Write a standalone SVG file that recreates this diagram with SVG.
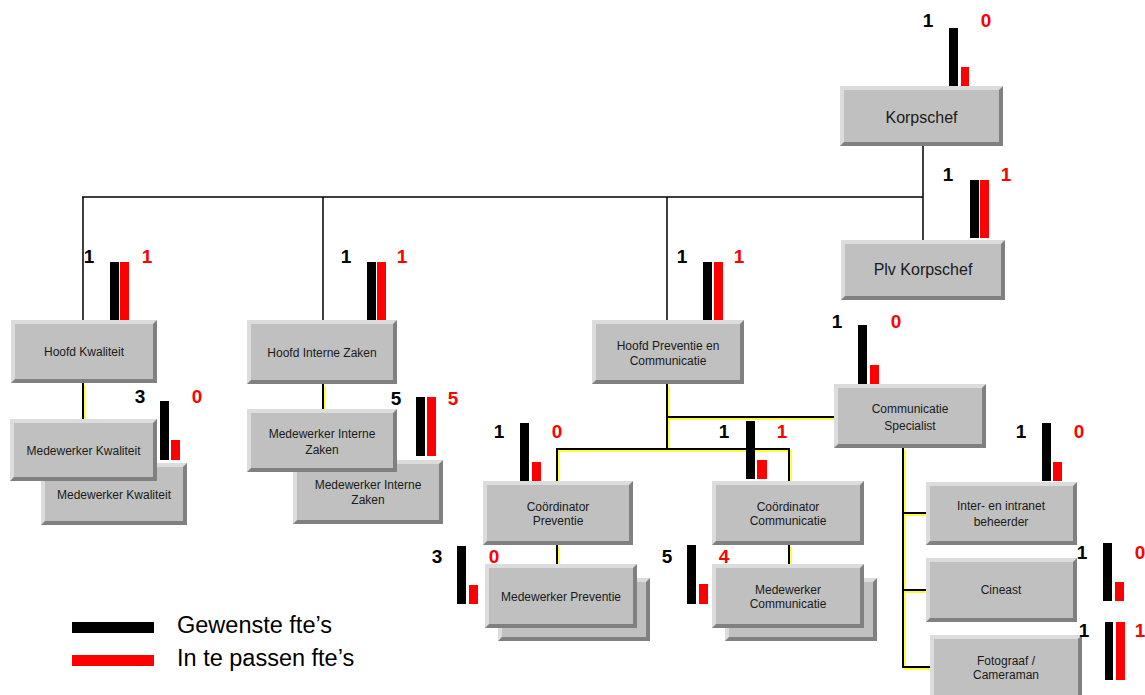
<svg xmlns="http://www.w3.org/2000/svg" width="1145" height="695" viewBox="0 0 1145 695">
<style>
.dk{fill:#808080}
.lt{fill:#dcdcdc}
.face{fill:#c0c0c0}
.t{font-family:"Liberation Sans",Arial,sans-serif;font-size:12px;fill:#1a1a1a;text-anchor:middle}
.tl{font-family:"Liberation Sans",Arial,sans-serif;font-size:16px;fill:#1a1a1a;text-anchor:middle}
.n{font-family:"Liberation Sans",Arial,sans-serif;font-size:19px;font-weight:bold;text-anchor:middle;fill:#000}
.r{fill:#ff0000}
.b{fill:#000}
.top{fill:none;stroke:#000;stroke-width:1.5}
.ks{fill:none;stroke:#000;stroke-width:2}
.ys{fill:none;stroke:#ffff33;stroke-width:2}
.leg{font-family:"Liberation Sans",Arial,sans-serif;font-size:23.5px;fill:#000}
</style>
<rect width="1145" height="695" fill="#fff"/>
<g id="connectors">
<path class="top" d="M82,197 H923 M83,197 V320 M323,197 V320 M667,197 V320 M923,146 V240"/>
<path class="ys" transform="translate(2,2)" d="M83,383 V418 M323,384 V407 M667,384 V447 M667,417 H832 M557,481 V449 H789 V481 M557,545 V562 M789,545 V562 M903,448 V667 H928 M903,513 H924 M903,590 H924"/>
<path class="ks" d="M83,383 V420 M323,384 V409 M667,384 V449 M667,417 H834 M557,481 V449 H789 V481 M557,545 V564 M789,545 V564 M903,448 V667 H930 M903,513 H926 M903,590 H926"/>
</g>
<g id="korpschef">
<rect class="dk" x="840" y="86" width="163" height="60"/><polygon class="lt" points="840,86 1003,86 999,90 844,90 844,142 840,146"/><rect class="face" x="844" y="90" width="155" height="52"/>
<text class="tl" x="921.5" y="123">Korpschef</text>
<rect class="b" x="949" y="28" width="9" height="58"/><rect class="r" x="961" y="67" width="8" height="19"/>
<text class="n" x="928" y="27">1</text><text class="n r" x="986" y="27">0</text>
</g>
<g id="plv-korpschef">
<rect class="dk" x="841" y="240" width="164" height="60"/><polygon class="lt" points="841,240 1005,240 1001,244 845,244 845,296 841,300"/><rect class="face" x="845" y="244" width="156" height="52"/>
<text class="tl" x="923" y="275">Plv Korpschef</text>
<rect class="b" x="970" y="180" width="9" height="58"/><rect class="r" x="980" y="180" width="9" height="58"/>
<text class="n" x="948" y="181">1</text><text class="n r" x="1006" y="181">1</text>
</g>
<g id="hoofd-kwaliteit">
<rect class="dk" x="11" y="320" width="146" height="63"/><polygon class="lt" points="11,320 157,320 153,324 15,324 15,379 11,383"/><rect class="face" x="15" y="324" width="138" height="55"/>
<text class="t" x="84" y="356">Hoofd Kwaliteit</text>
<rect class="b" x="110" y="262" width="9" height="58"/><rect class="r" x="120" y="262" width="9" height="58"/>
<text class="n" x="89" y="263">1</text><text class="n r" x="147" y="263">1</text>
</g>
<g id="hoofd-interne-zaken">
<rect class="dk" x="247" y="320" width="150" height="64"/><polygon class="lt" points="247,320 397,320 393,324 251,324 251,380 247,384"/><rect class="face" x="251" y="324" width="142" height="56"/>
<text class="t" x="322" y="357">Hoofd Interne Zaken</text>
<rect class="b" x="367" y="262" width="9" height="58"/><rect class="r" x="377" y="262" width="9" height="58"/>
<text class="n" x="346" y="263">1</text><text class="n r" x="402" y="263">1</text>
</g>
<g id="hoofd-preventie-communicatie">
<rect class="dk" x="592" y="320" width="152" height="64"/><polygon class="lt" points="592,320 744,320 740,324 596,324 596,380 592,384"/><rect class="face" x="596" y="324" width="144" height="56"/>
<text class="t" x="668" y="350">Hoofd Preventie en</text><text class="t" x="668" y="365">Communicatie</text>
<rect class="b" x="703" y="262" width="9" height="58"/><rect class="r" x="714" y="262" width="9" height="58"/>
<text class="n" x="682" y="263">1</text><text class="n r" x="739" y="263">1</text>
</g>
<g id="medewerker-kwaliteit">
<rect class="dk" x="41" y="463" width="146" height="62"/><polygon class="lt" points="41,463 187,463 183,467 45,467 45,521 41,525"/><rect class="face" x="45" y="467" width="138" height="54"/>
<text class="t" x="114" y="499">Medewerker Kwaliteit</text>
<rect class="dk" x="10" y="419" width="147" height="62"/><polygon class="lt" points="10,419 157,419 153,423 14,423 14,477 10,481"/><rect class="face" x="14" y="423" width="139" height="54"/>
<text class="t" x="83.5" y="455">Medewerker Kwaliteit</text>
<rect class="b" x="160" y="401" width="9" height="59"/><rect class="r" x="171" y="440" width="9" height="20"/>
<text class="n" x="140" y="403">3</text><text class="n r" x="197" y="403">0</text>
</g>
<g id="medewerker-interne-zaken">
<rect class="dk" x="293" y="460" width="150" height="64"/><polygon class="lt" points="293,460 443,460 439,464 297,464 297,520 293,524"/><rect class="face" x="297" y="464" width="142" height="56"/>
<text class="t" x="368" y="489">Medewerker Interne</text><text class="t" x="368" y="504">Zaken</text>
<rect class="dk" x="247" y="409" width="150" height="63"/><polygon class="lt" points="247,409 397,409 393,413 251,413 251,468 247,472"/><rect class="face" x="251" y="413" width="142" height="55"/>
<text class="t" x="322" y="438">Medewerker Interne</text><text class="t" x="322" y="454">Zaken</text>
<rect class="b" x="416" y="397" width="9" height="59"/><rect class="r" x="427" y="397" width="9" height="59"/>
<text class="n" x="396" y="405">5</text><text class="n r" x="453" y="405">5</text>
</g>
<g id="coordinator-preventie">
<rect class="dk" x="483" y="481" width="150" height="64"/><polygon class="lt" points="483,481 633,481 629,485 487,485 487,541 483,545"/><rect class="face" x="487" y="485" width="142" height="56"/>
<text class="t" x="558" y="511">Coördinator</text><text class="t" x="558" y="525">Preventie</text>
<rect class="b" x="520" y="423" width="9" height="58"/><rect class="r" x="532" y="462" width="9" height="19"/>
<text class="n" x="499" y="438">1</text><text class="n r" x="557" y="438">0</text>
</g>
<g id="coordinator-communicatie">
<rect class="dk" x="712" y="481" width="152" height="64"/><polygon class="lt" points="712,481 864,481 860,485 716,485 716,541 712,545"/><rect class="face" x="716" y="485" width="144" height="56"/>
<text class="t" x="788" y="511">Coördinator</text><text class="t" x="788" y="525">Communicatie</text>
<rect class="b" x="746" y="421" width="9" height="58"/><rect class="r" x="757" y="460" width="10" height="19"/>
<text class="n" x="724" y="438">1</text><text class="n r" x="782" y="438">1</text>
</g>
<g id="medewerker-preventie">
<rect class="dk" x="498" y="578" width="152" height="63"/><polygon class="lt" points="498,578 650,578 646,582 502,582 502,637 498,641"/><rect class="face" x="502" y="582" width="144" height="55"/>
<rect class="dk" x="485" y="564" width="152" height="64"/><polygon class="lt" points="485,564 637,564 633,568 489,568 489,624 485,628"/><rect class="face" x="489" y="568" width="144" height="56"/>
<text class="t" x="561" y="601">Medewerker Preventie</text>
<rect class="b" x="457" y="546" width="9" height="58"/><rect class="r" x="469" y="585" width="9" height="19"/>
<text class="n" x="437" y="563">3</text><text class="n r" x="494" y="563">0</text>
</g>
<g id="medewerker-communicatie">
<rect class="dk" x="725" y="578" width="152" height="63"/><polygon class="lt" points="725,578 877,578 873,582 729,582 729,637 725,641"/><rect class="face" x="729" y="582" width="144" height="55"/>
<rect class="dk" x="712" y="564" width="152" height="64"/><polygon class="lt" points="712,564 864,564 860,568 716,568 716,624 712,628"/><rect class="face" x="716" y="568" width="144" height="56"/>
<text class="t" x="788" y="594">Medewerker</text><text class="t" x="788" y="608">Communicatie</text>
<rect class="b" x="687" y="545" width="9" height="59"/><rect class="r" x="699" y="584" width="9" height="20"/>
<text class="n" x="667" y="563">5</text><text class="n r" x="724" y="563">4</text>
</g>
<g id="communicatie-specialist">
<rect class="dk" x="834" y="384" width="152" height="64"/><polygon class="lt" points="834,384 986,384 982,388 838,388 838,444 834,448"/><rect class="face" x="838" y="388" width="144" height="56"/>
<text class="t" x="910" y="413">Communicatie</text><text class="t" x="910" y="430">Specialist</text>
<rect class="b" x="858" y="325" width="9" height="59"/><rect class="r" x="870" y="365" width="9" height="19"/>
<text class="n" x="837" y="328">1</text><text class="n r" x="896" y="328">0</text>
</g>
<g id="inter-intranet-beheerder">
<rect class="dk" x="926" y="482" width="151" height="63"/><polygon class="lt" points="926,482 1077,482 1073,486 930,486 930,541 926,545"/><rect class="face" x="930" y="486" width="143" height="55"/>
<text class="t" x="1001" y="510">Inter- en intranet</text><text class="t" x="1001" y="526">beheerder</text>
<rect class="b" x="1042" y="423" width="9" height="58"/><rect class="r" x="1053" y="462" width="9" height="19"/>
<text class="n" x="1021" y="438">1</text><text class="n r" x="1079" y="438">0</text>
</g>
<g id="cineast">
<rect class="dk" x="926" y="558" width="151" height="64"/><polygon class="lt" points="926,558 1077,558 1073,562 930,562 930,618 926,622"/><rect class="face" x="930" y="562" width="143" height="56"/>
<text class="t" x="1001" y="594">Cineast</text>
<rect class="b" x="1103" y="543" width="9" height="58"/><rect class="r" x="1115" y="582" width="9" height="19"/>
<text class="n" x="1082" y="559">1</text><text class="n r" x="1140" y="559">0</text>
</g>
<g id="fotograaf-cameraman">
<rect class="dk" x="930" y="635" width="152" height="64"/><polygon class="lt" points="930,635 1082,635 1078,639 934,639 934,695 930,699"/><rect class="face" x="934" y="639" width="144" height="56"/>
<text class="t" x="1006" y="665">Fotograaf /</text><text class="t" x="1006" y="679">Cameraman</text>
<rect class="b" x="1105" y="622" width="8" height="58"/><rect class="r" x="1116" y="622" width="9" height="58"/>
<text class="n" x="1084" y="637">1</text><text class="n r" x="1140" y="637">1</text>
</g>
<g id="legend">
<rect class="b" x="72" y="622" width="82" height="11"/>
<rect class="r" x="72" y="655" width="82" height="11"/>
<text class="leg" x="177" y="633">Gewenste fte’s</text>
<text class="leg" x="177" y="666">In te passen fte’s</text>
</g>
</svg>
